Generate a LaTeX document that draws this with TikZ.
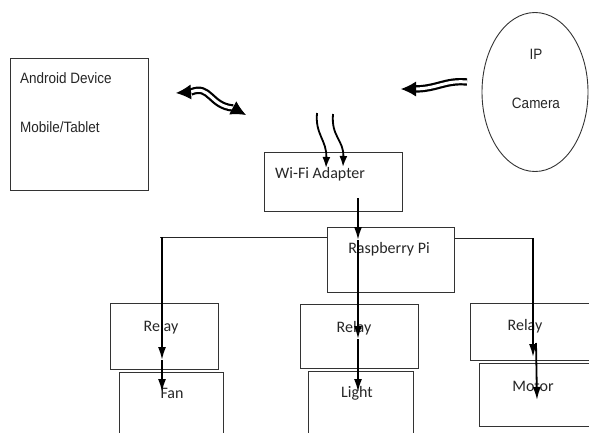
\documentclass[tikz,border=0pt]{standalone}
\usepackage{fontspec}
\setmainfont{Carlito}
\newfontfamily\narrowf[FakeStretch=0.9]{Liberation Sans}
\usetikzlibrary{arrows.meta,shapes.geometric}
\begin{document}
\begin{tikzpicture}[x=1pt,y=-1pt,
 box/.style={draw=black!80, line width=0.9pt, rectangle, inner sep=0pt, anchor=north west},
 lbl/.style={font=\fontsize{16}{18}\selectfont, text=black!85, inner sep=0pt},
 nlbl/.style={font=\narrowf\fontsize{15}{17}\selectfont, text=black!85, inner sep=0pt},
 thinline/.style={draw=black!85, line width=0.9pt},
 arr/.style={line width=1.8pt, -{Latex[length=13pt,width=8pt]}},
 warr/.style={line width=1.8pt, -{Latex[length=11pt,width=8pt]}},
 dbl/.style={double=white, double distance=3pt, line width=2.2pt},
 bighead/.style={line width=1pt, -{Latex[length=15pt,width=15pt]}},
]
\useasboundingbox (0,0) rectangle (589,432);
% boxes
\node[box, minimum width=138pt, minimum height=132pt] (android) at (10,58) {};
\node[draw=black!80, line width=0.9pt, ellipse, minimum width=106pt, minimum height=159pt, inner sep=0pt] (cam) at (535,92) {};
\node[box, minimum width=138pt, minimum height=59pt] (wifi) at (264,152) {};
\node[box, minimum width=127pt, minimum height=65pt] (rpi) at (327,227) {};
\node[box, minimum width=108pt, minimum height=66pt] (relayA) at (110,303) {};
\node[box, minimum width=118pt, minimum height=64pt] (relayB) at (300,304) {};
\node[box, minimum width=130pt, minimum height=57pt] (relayC) at (470,303) {};
\node[box, minimum width=104pt, minimum height=70pt] (fan) at (119,372) {};
\node[box, minimum width=105pt, minimum height=70pt] (light) at (308,371) {};
\node[box, minimum width=120pt, minimum height=63pt] (motor) at (479,363) {};
% texts
\node[nlbl, anchor=west] (tAndroid) at (20,78) {Android Device};
\node[nlbl, anchor=west] (tMobile) at (20,127) {Mobile/Tablet};
\node[nlbl] (tIP) at (536,54) {IP};
\node[nlbl] (tCam) at (536,103) {Camera};
\node[lbl, anchor=west] (tWifi) at (275,174) {Wi-Fi Adapter};
\node[lbl] (tRpi) at (389,249) {Raspberry Pi};
\node[lbl] (tRA) at (161,327) {Relay};
\node[lbl] (tRB) at (354,328) {Relay};
\node[lbl] (tRC) at (525,326) {Relay};
\node[lbl] (tFan) at (172,393) {Fan};
\node[lbl] (tLight) at (357,393) {Light};
\node[lbl] (tMotor) at (533,386) {Motor};
% coordinates for connectors
\coordinate (m0) at (358,198);
\coordinate (m1) at (358,240);
\coordinate (m2) at (358,339);
\coordinate (m3) at (358,392);
\coordinate (lh) at (160,237);
\coordinate (l0) at (162,237);
\coordinate (l1) at (162,360);
\coordinate (l2) at (162,392);
\coordinate (rh) at (533,238);
\coordinate (r1) at (533,357);
\coordinate (r2a) at (536,343);
\coordinate (r2) at (537,400);
% middle chain
\draw[arr] (m0) -- (m1);
\draw[arr] (m1) -- (m2);
\draw[arr] (m2) -- (m3);
% left branch
\draw[thinline] (rpi.west |- lh) -- (lh);
\draw[arr] (l0) -- (l1);
\draw[arr] (l1) -- (l2);
% right branch
\draw[thinline] (rpi.east |- rh) -- (rh);
\draw[arr] (rh) -- (r1);
\draw[arr] (r2a) -- (r2);
% wireless arrows into wifi
\coordinate (w1s) at (317,113);
\coordinate (w1e) at (326,168);
\coordinate (w2s) at (333,114);
\coordinate (w2e) at (343,167);
\draw[warr] (w1s) .. controls (315,135) and (327,140) .. (w1e);
\draw[warr] (w2s) .. controls (331,137) and (344,140) .. (w2e);
% double wavy arrow android <-> network
\coordinate (da) at (176,93);
\coordinate (da1) at (191,92);
\coordinate (db1) at (233,108);
\coordinate (db) at (246,115);
\draw[dbl] (da1) .. controls (210,84) and (210,106) .. (db1);
\draw[bighead] (da1) -- (da);
\draw[bighead] (db1) -- (db);
% double wavy arrow from camera
\coordinate (ca) at (467,82);
\coordinate (ca1) at (414,89);
\coordinate (cb) at (401,89);
\draw[dbl] (ca) .. controls (445,80) and (437,89) .. (ca1);
\draw[bighead] (ca1) -- (cb);
\end{tikzpicture}
\end{document}
